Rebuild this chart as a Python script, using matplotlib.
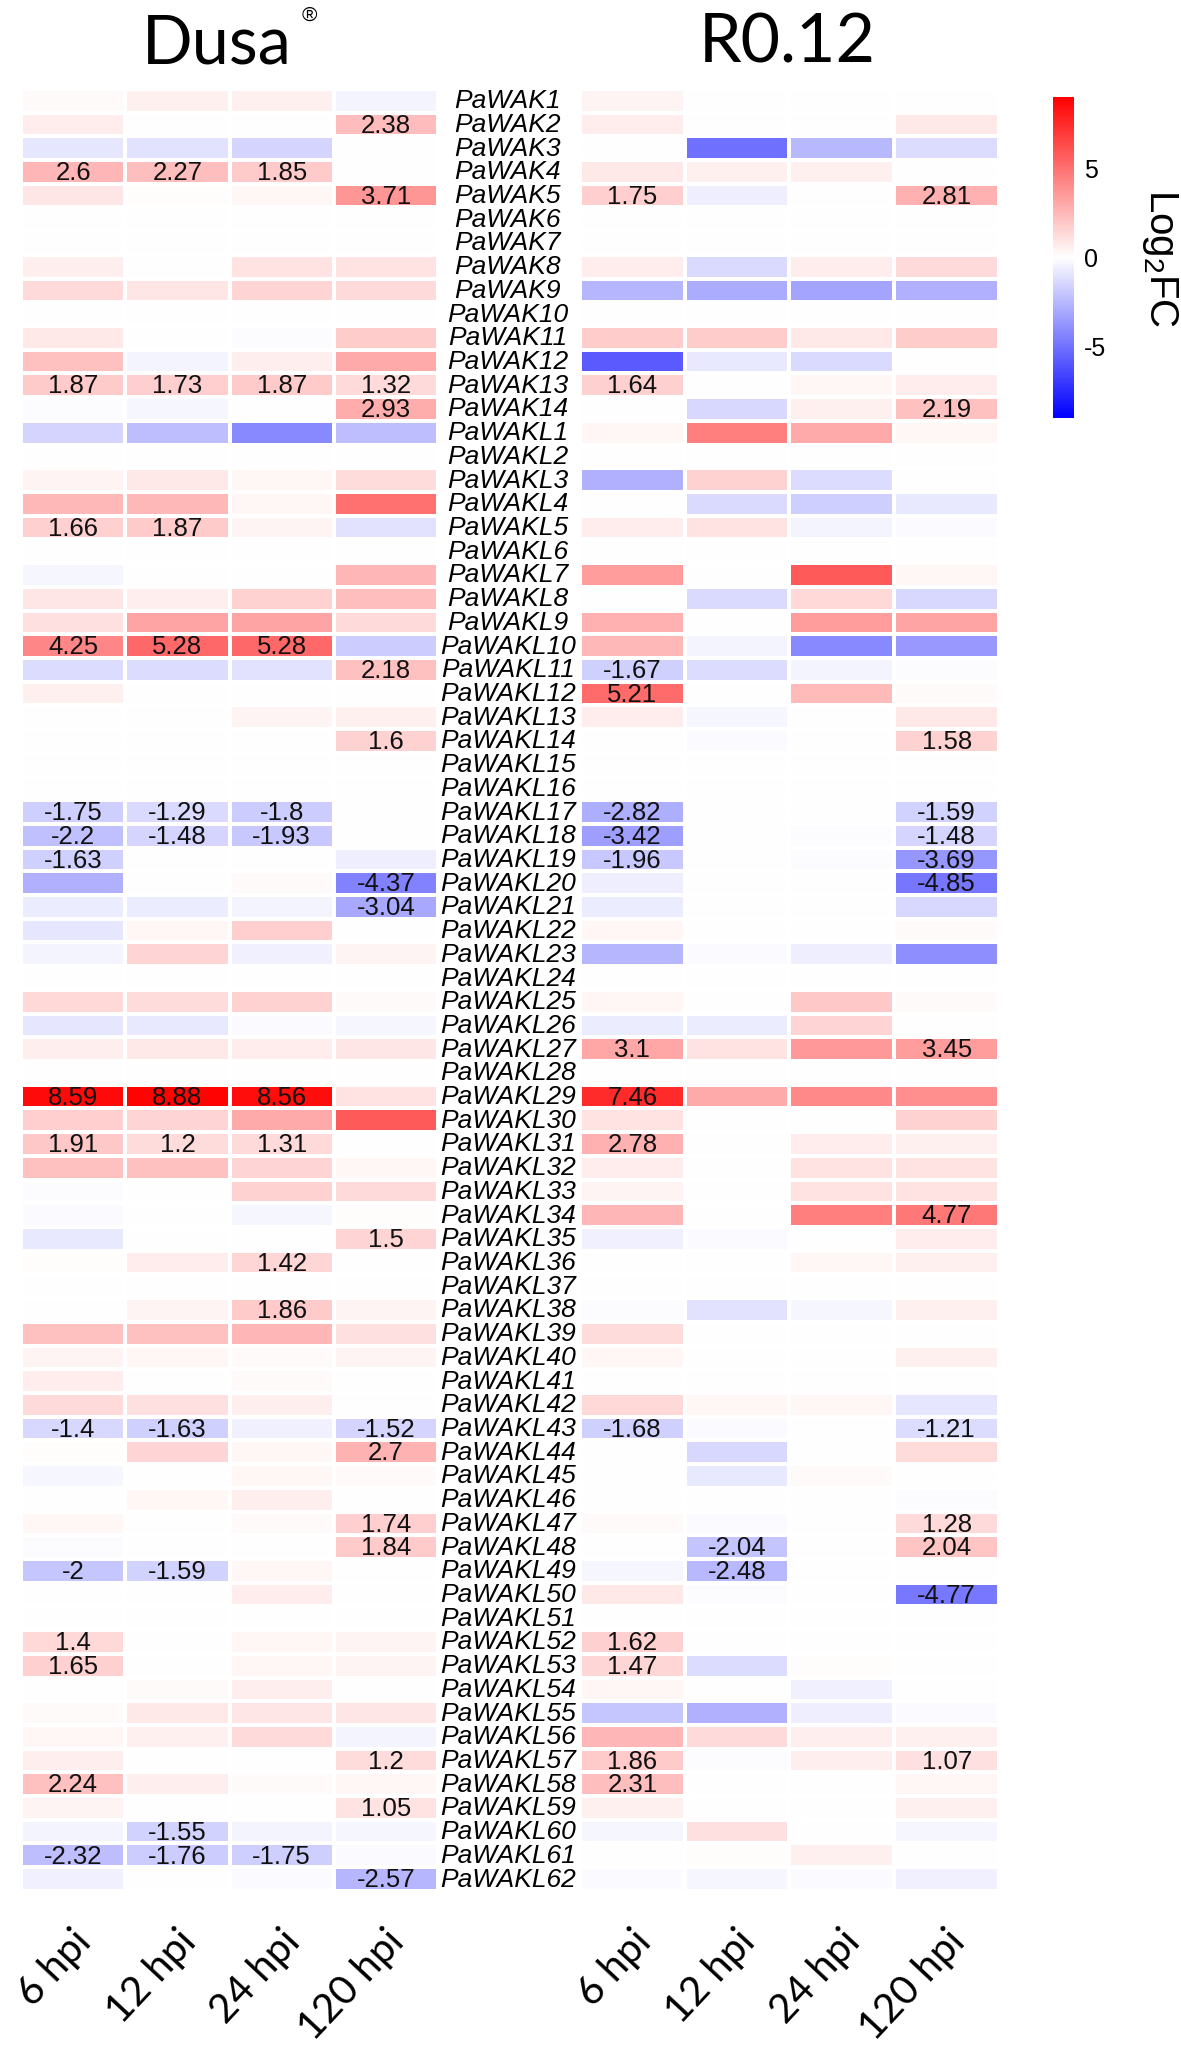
import matplotlib
matplotlib.use('Agg')
import matplotlib.pyplot as plt
from matplotlib.transforms import ScaledTranslation
import numpy as np

plt.rcParams['font.family'] = ['Liberation Sans', 'DejaVu Sans']
plt.rcParams['axes.unicode_minus'] = False

genes = [f'PaWAK{i}' for i in range(1, 15)] + [f'PaWAKL{i}' for i in range(1, 63)]
timepoints = ['6 hpi', '12 hpi', '24 hpi', '120 hpi']

# log2FC, columns = 6 / 12 / 24 / 120 hpi
dusa = [
    [0.2, 0.5, 0.5, -0.4],     # PaWAK1
    [0.7, 0, 0, 2.38],
    [-0.9, -1.0, -1.5, 0],
    [2.6, 2.27, 1.85, 0],
    [0.9, 0.1, 0.3, 3.71],
    [0, 0, 0, 0],
    [0, 0, 0, 0],
    [0.6, 0, 1.0, 1.0],
    [1.3, 0.9, 1.5, 1.3],
    [0, 0, 0, 0],
    [0.8, 0, -0.1, 1.8],
    [2.2, -0.4, 0.6, 3.0],
    [1.87, 1.73, 1.87, 1.32],
    [-0.1, -0.3, 0, 2.93],
    [-1.5, -2.3, -4.2, -2.3],  # PaWAKL1
    [0, 0, 0, 0],
    [0.4, 0.8, 0.3, 1.2],
    [2.5, 2.5, 0.3, 5.0],
    [1.66, 1.87, 0.4, -1.0],
    [0, 0, 0, 0],
    [-0.3, 0, 0, 2.6],
    [0.9, 0.6, 1.6, 2.3],
    [1.1, 3.2, 3.2, 1.3],
    [4.25, 5.28, 5.28, -1.8],
    [-1.2, -1.2, -1.0, 2.18],
    [0.5, 0, 0, 0],
    [0, 0, 0.4, 0.5],
    [0, 0, 0, 1.6],
    [0, 0, 0, 0],
    [0, 0, 0, 0],
    [-1.75, -1.29, -1.8, 0],
    [-2.2, -1.48, -1.93, 0],
    [-1.63, 0, 0, -0.6],
    [-2.8, 0, 0.2, -4.37],
    [-0.7, -0.7, -0.4, -3.04],
    [-0.9, 0.3, 1.7, 0],
    [-0.4, 1.5, -0.5, 0.4],
    [0, 0, 0, 0],
    [1.4, 1.2, 1.6, 0.2],
    [-0.9, -0.8, -0.2, -0.3],
    [0.6, 0.8, 0.7, 0.9],
    [0, 0, 0, 0],
    [8.59, 8.88, 8.56, 1.0],
    [1.7, 1.5, 3.0, 5.8],
    [1.91, 1.2, 1.31, 0],
    [2.2, 2.2, 1.5, 0.3],
    [-0.1, 0, 1.6, 1.3],
    [-0.2, 0, -0.3, 0.1],
    [-0.8, 0, 0, 1.5],
    [0.1, 0.7, 1.42, 0],
    [0, 0, 0, 0],
    [0, 0.4, 1.86, 0.4],
    [2.2, 2.2, 2.6, 1.1],
    [0.4, 0.3, 0.2, 0.4],
    [0.7, 0, 0.2, 0],
    [1.3, 1.1, 0.6, 0],
    [-1.4, -1.63, -0.5, -1.52],
    [0.1, 1.5, 0.3, 2.7],
    [-0.3, 0, 0.3, 0.2],
    [0, 0.3, 0.6, 0],
    [0.3, 0, 0.2, 1.74],
    [-0.1, 0, 0, 1.84],
    [-2, -1.59, 0.3, 0],
    [0, 0, 0.7, 0],
    [0, 0, 0, 0],
    [1.4, 0, 0.3, 0.4],
    [1.65, 0, 0.3, 0.4],
    [0, 0.2, 0.6, 0],
    [0.2, 0.8, 0.9, 0.9],
    [0.3, 0.5, 1.3, -0.4],
    [0.6, 0, 0, 1.2],
    [2.24, 0.6, 0.2, 0.3],
    [0.4, 0, 0, 1.05],
    [-0.4, -1.55, -0.4, -0.3],
    [-2.32, -1.76, -1.75, -0.2],
    [-0.5, 0, -0.2, -2.57],    # PaWAKL62
]

r012 = [
    [0.4, 0, 0, 0],            # PaWAK1
    [0.7, 0, 0, 0.8],
    [0, -5.0, -2.5, -1.2],
    [0.8, 0.5, 0.5, 0],
    [1.75, -0.6, 0, 2.81],
    [0, 0, 0, 0],
    [0, 0, 0, 0],
    [0.7, -1.3, 0.7, 1.3],
    [-2.6, -2.9, -3.2, -2.8],
    [0, 0, 0, 0],
    [1.8, 1.8, 0.8, 1.8],
    [-5.8, -0.8, -1.3, 0],
    [1.64, 0, 0.3, 0.7],
    [0, -1.4, 0.5, 2.19],
    [0.3, 4.5, 3.0, 0.3],      # PaWAKL1
    [0, 0, 0, 0],
    [-2.8, 1.6, -1.2, 0],
    [0, -1.3, -1.7, -0.8],
    [0.7, 1.0, -0.4, -0.2],
    [0, 0, 0, 0],
    [3.5, 0, 5.8, 0.3],
    [0, -1.3, 1.4, -1.4],
    [2.8, 0, 3.5, 3.2],
    [2.5, -0.4, -4.2, -3.6],
    [-1.67, -1.2, -0.4, -0.1],
    [5.21, 0, 2.4, 0.2],
    [0.7, -0.3, 0, 0.8],
    [0, -0.2, 0, 1.58],
    [0, 0, 0, 0],
    [0, 0, 0, 0],
    [-2.82, 0, 0, -1.59],
    [-3.42, 0, -0.1, -1.48],
    [-1.96, 0, -0.1, -3.69],
    [-0.6, 0, 0, -4.85],
    [-0.7, 0, 0, -1.4],
    [0.3, 0, 0, 0.2],
    [-2.6, -0.2, -0.6, -4.0],
    [0, 0, 0, 0],
    [0.3, 0, 1.9, 0.2],
    [-0.7, -0.7, 1.5, 0],
    [3.1, 1.0, 3.6, 3.45],
    [0, 0, 0, 0],
    [7.46, 3.0, 4.2, 4.0],
    [1.0, 0, 0, 1.6],
    [2.78, 0, 0.7, 0.5],
    [0.7, 0, 1.0, 1.0],
    [0.4, 0, 1.0, 1.0],
    [2.6, 0, 4.5, 4.77],
    [-0.5, -0.2, 0, 0.7],
    [0, 0, 0.3, 0.5],
    [0, 0, 0, 0],
    [-0.1, -1.0, -0.3, 0.5],
    [1.2, 0, 0, 0],
    [0.3, 0, 0, 0.5],
    [0, 0, 0, 0],
    [1.4, 0.3, 0.3, -0.9],
    [-1.68, -0.2, 0, -1.21],
    [0, -1.4, 0, 1.2],
    [0, -0.8, 0.2, 0],
    [0, 0, 0, -0.1],
    [0.2, -0.2, 0, 1.28],
    [0, -2.04, 0, 2.04],
    [-0.3, -2.48, 0, 0],
    [0.8, -0.1, 0, -4.77],
    [0, 0, 0, 0],
    [1.62, 0, 0, 0],
    [1.47, -1.2, 0.1, 0],
    [0.3, 0, -0.5, 0],
    [-2.0, -2.8, -0.6, -0.2],
    [2.6, 1.3, 0.6, 0.5],
    [1.86, -0.1, 0.6, 1.07],
    [2.31, 0, 0, 0.3],
    [0.5, 0, 0, 0.5],
    [-0.3, 1.1, 0, -0.3],
    [0, 0.1, 0.5, 0],
    [-0.2, -0.3, -0.2, -0.5],  # PaWAKL62
]

# which cells carry a printed value (1 = labelled)
dusa_sig = (['0000', '0001', '0000', '1110', '0001', '0000', '0000', '0000', '0000', '0000',
             '0000', '0000', '1111', '0001']
            + ['0000', '0000', '0000', '0000', '1100', '0000', '0000', '0000', '0000', '1110',
               '0001', '0000', '0000', '0001', '0000', '0000', '1110', '1110', '1000', '0001',
               '0001', '0000', '0000', '0000', '0000', '0000', '0000', '0000', '1110', '0000',
               '1110', '0000', '0000', '0000', '0001', '0010', '0000', '0010', '0000', '0000',
               '0000', '0000', '1101', '0001', '0000', '0000', '0001', '0001', '1100', '0000',
               '0000', '1000', '1000', '0000', '0000', '0000', '0001', '1000', '0001', '0100',
               '1110', '0001'])
r012_sig = (['0000', '0000', '0000', '0000', '1001', '0000', '0000', '0000', '0000', '0000',
             '0000', '0000', '1000', '0001']
            + ['0000', '0000', '0000', '0000', '0000', '0000', '0000', '0000', '0000', '0000',
               '1000', '1000', '0000', '0001', '0000', '0000', '1001', '1001', '1001', '0001',
               '0000', '0000', '0000', '0000', '0000', '0000', '1001', '0000', '1000', '0000',
               '1000', '0000', '0000', '0001', '0000', '0000', '0000', '0000', '0000', '0000',
               '0000', '0000', '1001', '0000', '0000', '0000', '0001', '0101', '0100', '0001',
               '0000', '1000', '1000', '0000', '0000', '0000', '1001', '1000', '0000', '0000',
               '0000', '0000'])

VMAX = 9


def draw_panel(ax, vals, sig):
    arr = np.array(vals, dtype=float)
    mesh = ax.pcolormesh(arr, cmap='bwr', vmin=-VMAX, vmax=VMAX,
                         edgecolors='white', linewidth=1.5)
    ax.set_xlim(0, 4)
    ax.set_ylim(len(genes), 0)
    for i, row in enumerate(vals):
        for j, v in enumerate(row):
            if sig[i][j] == '1':
                ax.text(j + 0.5, i + 0.55, f'{v:g}', ha='center', va='center',
                        fontsize=18.5, color='#111111')
    ax.set_yticks([])
    ax.set_xticks(np.arange(4) + 0.5)
    ax.set_xticklabels(timepoints, rotation=47, ha='right', va='center',
                       rotation_mode='anchor', fontsize=29, family='Lato')
    ax.tick_params(axis='x', length=0, pad=32)
    shift = ScaledTranslation(0.12, 0, ax.figure.dpi_scale_trans)
    for lab in ax.get_xticklabels():
        lab.set_transform(lab.get_transform() + shift)
    for s in ax.spines.values():
        s.set_visible(False)
    return mesh


fig = plt.figure(figsize=(11.81, 20.48), dpi=100)
ax_d = fig.add_axes([0.0178, 0.0767, 0.3531, 0.8799])
ax_r = fig.add_axes([0.4911, 0.0767, 0.3548, 0.8799])
cax = fig.add_axes([0.8916, 0.7959, 0.0178, 0.1567])

mesh = draw_panel(ax_d, dusa, dusa_sig)
draw_panel(ax_r, r012, r012_sig)

# gene names between the two panels
for i, g in enumerate(genes):
    ax_d.text(4.67, i + 0.52, g, ha='center', va='center', style='italic',
              fontsize=19, clip_on=False)

fig.text(0.1837, 0.9688, 'Dusa', ha='center', va='baseline', fontsize=48, family='Lato')
fig.text(0.2616, 0.9927, '®', ha='center', va='center', fontsize=15)
fig.text(0.667, 0.9693, 'R0.12', ha='center', va='baseline', fontsize=49, family='Lato')

cb = fig.colorbar(mesh, cax=cax)
cb.outline.set_visible(False)
cb.set_ticks([-5, 0, 5])
cax.tick_params(length=0, labelsize=18, pad=7)
fig.text(1160 / 1181, 1 - 258 / 2048, 'Log$_\\mathregular{2}$FC', rotation=270,
         ha='center', va='center', fontsize=29)

fig.savefig('out.png', dpi=100)
